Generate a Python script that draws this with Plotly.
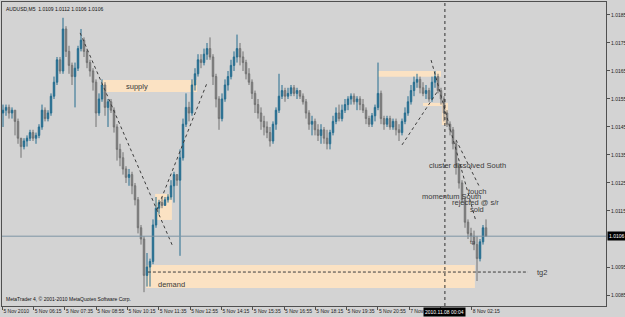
import plotly.graph_objects as go

# ---------------- data (AUDUSD, M5) : prices in pips above 1.0000 ----------------
FIRST_OPEN = 150
CLOSE = [151, 152, 150, 151, 147, 141, 138, 140, 141, 143,
         141, 142, 145, 151, 148, 150, 156, 161, 169, 165,
         180, 172, 167, 163, 166, 173, 176, 172, 168, 165,
         161, 150, 155, 160, 152, 154, 151, 145, 137, 134,
         130, 127, 128, 124, 119, 109, 105, 92, 95, 97,
         110, 116, 118, 117, 119, 120, 124, 128, 126, 134,
         146, 152, 150, 160, 164, 169, 168, 171, 173, 170,
         163, 155, 148, 155, 160, 163, 167, 170, 173, 170,
         168, 164, 161, 157, 153, 150, 147, 145, 143, 140,
         146, 151, 156, 158, 156, 157, 159, 157, 158, 156,
         154, 150, 146, 147, 144, 142, 144, 141, 139, 143,
         147, 150, 148, 151, 153, 155, 156, 154, 155, 153,
         151, 148, 146, 149, 152, 157, 148, 146, 148, 145,
         147, 144, 143, 147, 150, 154, 158, 161, 162, 159,
         157, 158, 155, 161, 163, 158, 155, 150, 146, 144,
         139, 131, 125, 119, 111, 107, 106, 103, 98, 104,
         109, 106]
HIGH = [153, 153, 153, 152, 151, 148, 141, 141, 142, 144,
        144, 143, 146, 153, 152, 151, 157, 163, 170, 170,
        184, 181, 174, 168, 168, 174, 180, 177, 173, 169,
        166, 162, 157, 162, 161, 155, 155, 152, 146, 139,
        136, 131, 130, 129, 125, 120, 110, 106, 100, 98,
        112, 120, 119, 120, 120, 121, 126, 129, 128, 137,
        148, 157, 154, 162, 166, 171, 171, 173, 175, 177,
        171, 164, 156, 157, 162, 165, 169, 172, 178, 175,
        172, 169, 166, 162, 158, 155, 152, 149, 147, 145,
        147, 152, 164, 160, 159, 159, 160, 160, 159, 158,
        157, 155, 151, 149, 148, 146, 146, 145, 144, 144,
        149, 152, 153, 153, 155, 156, 157, 157, 156, 156,
        155, 152, 149, 150, 153, 168, 158, 149, 149, 149,
        148, 148, 146, 148, 152, 156, 160, 163, 164, 163,
        161, 160, 159, 163, 165, 164, 159, 156, 151, 147,
        145, 140, 132, 126, 120, 112, 109, 108, 106, 105,
        110, 112]
LOW = [145, 149, 148, 148, 142, 139, 134, 137, 138, 140,
       140, 139, 141, 144, 147, 147, 149, 155, 160, 164,
       164, 170, 164, 160, 152, 165, 172, 170, 166, 163,
       158, 145, 149, 154, 149, 145, 150, 143, 133, 131,
       128, 125, 124, 121, 117, 107, 103, 86, 88, 88,
       96, 109, 114, 116, 117, 118, 119, 118, 124, 99,
       133, 145, 147, 149, 158, 163, 166, 167, 169, 169,
       160, 152, 144, 147, 154, 158, 162, 165, 168, 167,
       165, 162, 160, 155, 150, 148, 144, 142, 141, 138,
       139, 144, 150, 155, 154, 155, 156, 156, 155, 155,
       153, 148, 144, 142, 142, 140, 139, 139, 137, 137,
       142, 146, 147, 147, 150, 151, 153, 153, 151, 151,
       150, 146, 145, 145, 147, 151, 146, 144, 145, 144,
       144, 142, 140, 142, 146, 149, 153, 156, 159, 157,
       156, 155, 154, 154, 159, 157, 153, 147, 145, 142,
       137, 128, 123, 118, 109, 105, 104, 101, 90, 97,
       103, 106]

Y_TICKS = [1.0085, 1.0095, 1.0115, 1.0125, 1.0135,
           1.0145, 1.0155, 1.0165, 1.0175, 1.0185]
X_TICK_LABELS = ["5 Nov 2010", "5 Nov 06:15", "5 Nov 07:35", "5 Nov 08:55",
                 "5 Nov 10:15", "5 Nov 11:35", "5 Nov 12:55", "5 Nov 14:15",
                 "5 Nov 15:35", "5 Nov 16:55", "5 Nov 18:15", "5 Nov 19:35",
                 "5 Nov 20:55", "7 Nov 2", "", "8 Nov 02:15"]
LAST_PRICE = 1.0106

assert len(CLOSE) == len(HIGH) == len(LOW)

# ---------------- build OHLC ----------------
n = len(CLOSE)
opens_p = [FIRST_OPEN] + CLOSE[:-1]
o = [1 + v / 10000 for v in opens_p]
c = [1 + v / 10000 for v in CLOSE]
h = [1 + max(HIGH[i], opens_p[i], CLOSE[i]) / 10000 for i in range(n)]
l = [1 + min(LOW[i], opens_p[i], CLOSE[i]) / 10000 for i in range(n)]
xs = list(range(n))

BG = "#d3d3d3"
AX = "#505050"
TXT = "#3a3a3a"
ZONE = "#fbe2c3"
FONT = "Liberation Sans, Arial"

fig = go.Figure()
fig.add_trace(go.Candlestick(
    x=xs, open=o, high=h, low=l, close=c,
    increasing=dict(line=dict(color="#256d8f", width=1), fillcolor="#256d8f"),
    decreasing=dict(line=dict(color="#727272", width=1), fillcolor="#929292"),
    whiskerwidth=0, hoverinfo="skip"))

# ---------------- zones (bar index range, price range) ----------------
zones = [
    (33.0, 64.7, 1.01575, 1.01618),
    (50.7, 56.3, 1.01118, 1.01211),
    (47.7, 157.3, 1.00875, 1.00957),
    (125.0, 146.0, 1.01629, 1.01650),
    (140.0, 148.3, 1.01525, 1.01536),
    (146.3, 148.3, 1.01457, 1.01536),
]
for x0, x1, y0, y1 in zones:
    fig.add_shape(type="rect", x0=x0, x1=x1, y0=y0, y1=y1, xref="x", yref="y",
                  fillcolor=ZONE, line=dict(width=0), layer="below")

# dotted trend lines
trend = [
    (25.7, 1.01786, 56.7, 1.01021),
    (51.3, 1.01154, 68.0, 1.01607),
    (133.0, 1.01386, 144.7, 1.01575),
    (142.7, 1.01689, 157.7, 1.01111),
    (151.0, 1.01404, 158.7, 1.01239),
]
for x0, y0, x1, y1 in trend:
    fig.add_shape(type="line", x0=x0, y0=y0, x1=x1, y1=y1, xref="x", yref="y",
                  line=dict(color="#3c3c3c", width=1, dash="dot"))

# tg2 dashed line
fig.add_shape(type="line", x0=48.3, x1=175.0, y0=1.00932, y1=1.00932,
              xref="x", yref="y", line=dict(color="#3c3c3c", width=1, dash="3px,2px"))
# current price line
fig.add_shape(type="line", x0=0, x1=1, y0=LAST_PRICE, y1=LAST_PRICE,
              xref="paper", yref="y", line=dict(color="#7e95a5", width=1))
# crosshair vertical
fig.add_shape(type="line", x0=147.3, x1=147.3, y0=0, y1=1, xref="x", yref="paper",
              line=dict(color="#303030", width=1, dash="dot"))

# ---------------- text ----------------
def note(text, x, y, anchor="left", size=7.5, color=TXT):
    fig.add_annotation(text=text, x=x, y=y, xref="x", yref="y", showarrow=False,
                       xanchor=anchor, yanchor="middle",
                       font=dict(family=FONT, size=size, color=color))

note("supply", 44.7, 1.01596, anchor="center")
note("demand", 51.0, 1.00889)
note("tg2", 177.3, 1.00929)
note("cluster dissolved South", 154.7, 1.01311, anchor="center")
note("touch", 154.3, 1.01221)
note("momentum South", 139.0, 1.01200)
note("rejected @ s/r", 149.0, 1.01182)
note("sold", 155.0, 1.01157)
note("tp", 155.0, 1.01039, size=6)

fig.add_annotation(text="AUDUSD,M5  1.0109 1.0112 1.0106 1.0106", x=0.003, y=0.995,
                   xref="paper", yref="paper", xanchor="left", yanchor="top",
                   showarrow=False, font=dict(family=FONT, size=5, color="#111"))
fig.add_annotation(text="MetaTrader 4, © 2001-2010 MetaQuotes Software Corp.", x=0.003, y=0.005,
                   xref="paper", yref="paper", xanchor="left", yanchor="bottom",
                   showarrow=False, font=dict(family=FONT, size=5, color="#111"))
# price label box
fig.add_annotation(text="1.0106", x=1, y=LAST_PRICE, xref="paper", yref="y",
                   xanchor="left", yanchor="middle", showarrow=False, bgcolor="#000000",
                   borderpad=1, xshift=1,
                   font=dict(family=FONT, size=5, color="#ffffff"))
# crosshair time label
fig.add_annotation(text="2010.11.08 00:04", x=147.3, y=0, xref="x", yref="paper",
                   xanchor="center", yanchor="top", showarrow=False, bgcolor="#000000",
                   borderpad=1, yshift=-1,
                   font=dict(family=FONT, size=5, color="#ffffff"))

# ---------------- axes ----------------
tick_idx = [-0.2 + 10.43 * k for k in range(len(X_TICK_LABELS))]
fig.update_xaxes(range=[-1 / 3, 201], showgrid=False, zeroline=False,
                 showline=True, mirror=True, linecolor=AX, linewidth=1,
                 ticks="outside", ticklen=3, tickcolor=AX,
                 tickvals=tick_idx, ticktext=X_TICK_LABELS, tickangle=0,
                 ticklabelposition="outside right", automargin=False,
                 tickfont=dict(family=FONT, size=5, color="#222"),
                 rangeslider=dict(visible=False))
fig.update_yaxes(range=[1.008107, 1.018964], side="right", showgrid=False, zeroline=False,
                 showline=True, mirror=True, linecolor=AX, linewidth=1,
                 ticks="outside", ticklen=3, tickcolor=AX, automargin=False,
                 tickvals=Y_TICKS, tickformat=".4f",
                 tickfont=dict(family=FONT, size=5, color="#222"))

fig.update_layout(width=625, height=317, margin=dict(l=2, r=19, t=2, b=11),
                  paper_bgcolor=BG, plot_bgcolor=BG, showlegend=False)

fig.write_html("out.html", config={"displayModeBar": False})
